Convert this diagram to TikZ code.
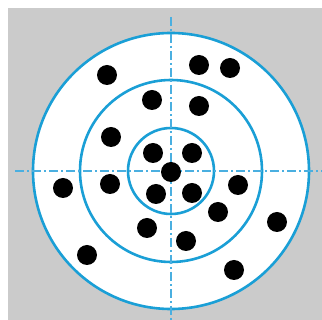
\documentclass[tikz,border=0pt]{standalone}
\usepackage{tikz}
\usepackage{xcolor}
\definecolor{ringblue}{HTML}{1A9FD6}
\definecolor{axisblue}{HTML}{4AAFE0}
\definecolor{panelgray}{HTML}{CBCBCB}

\begin{document}
\begin{tikzpicture}[x=1pt, y=-1pt,
  ring/.style={draw=ringblue, line width=2.6pt},
  axis/.style={draw=axisblue, line width=1.1pt,
    dash pattern=on 9pt off 3pt on 2pt off 3pt},
  hit/.style={circle, fill=black, inner sep=0pt, minimum size=20pt}]
\useasboundingbox (0,0) rectangle (322,320);
\fill[panelgray] (8,8) rectangle (322,320);
\coordinate (c) at (171,171);
\fill[white] (c) circle[radius=138];
\draw[ring] (c) circle[radius=138];
\draw[ring] (c) circle[radius=91];
\draw[ring] (c) circle[radius=43];
\coordinate (w) at (15,171);
\coordinate (e) at (322,171);
\coordinate (n) at (171,17);
\coordinate (s) at (171,320);
\draw[axis] (w) -- (e);
\draw[axis] (n) -- (s);
% hits
\node[hit] (h1) at (107,75) {};
\node[hit] (h2) at (199,65) {};
\node[hit] (h3) at (230,68) {};
\node[hit] (h4) at (152,100) {};
\node[hit] (h5) at (199,106) {};
\node[hit] (h6) at (111,137) {};
\node[hit] (h7) at (153,153) {};
\node[hit] (h8) at (192,153) {};
\node[hit] (h9) at (171,172) {};
\node[hit] (h10) at (63,188) {};
\node[hit] (h11) at (110,184) {};
\node[hit] (h12) at (156,194) {};
\node[hit] (h13) at (192,193) {};
\node[hit] (h14) at (238,185) {};
\node[hit] (h15) at (218,212) {};
\node[hit] (h16) at (277,222) {};
\node[hit] (h17) at (147,228) {};
\node[hit] (h18) at (186,241) {};
\node[hit] (h19) at (87,255) {};
\node[hit] (h20) at (234,270) {};
\end{tikzpicture}
\end{document}
